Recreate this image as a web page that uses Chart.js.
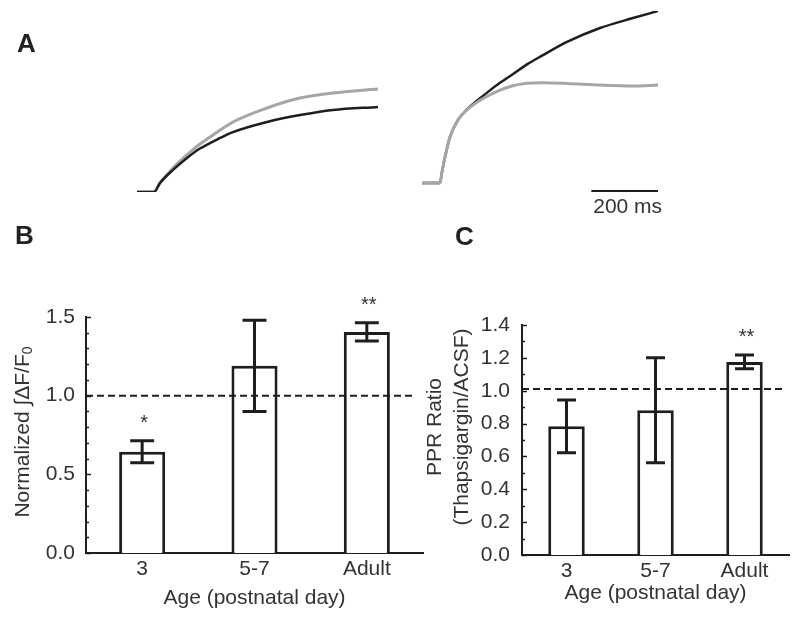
<!DOCTYPE html>
<html>
<head>
<meta charset="utf-8">
<script src="https://cdn.jsdelivr.net/npm/chart.js@4.4.1/dist/chart.umd.min.js"></script>
<style>
  body { margin: 0; background: #fff; }
  #wrap { position: relative; width: 800px; height: 617px; overflow: hidden; }
  canvas { position: absolute; }
  .letter { position: absolute; font: bold 26px "Liberation Sans", Arial, sans-serif; color: #222; line-height: 26px; }
</style>
</head>
<body>
<div id="wrap">
  <canvas id="traces" width="800" height="230" style="left:0;top:0"></canvas>
  <canvas id="chartB" width="430" height="387" style="left:0;top:230px"></canvas>
  <canvas id="chartC" width="390" height="387" style="left:410px;top:230px"></canvas>
  <div class="letter" style="left:17px;top:30px">A</div>
  <div class="letter" style="left:15px;top:222px">B</div>
  <div class="letter" style="left:455px;top:223px">C</div>
</div>
<script>
// A: example traces, time in ms from trace start, dF in % of the largest response
const leftTime  = [0, 51, 69, 108, 150, 189, 240, 288, 390, 489, 588, 723];
const leftCtrl  = [0, 0, 5.0, 12.2, 18.8, 24.0, 29.0, 33.1, 38.7, 42.5, 45.3, 47.0];
const leftThap  = [0, 0, 5.0, 13.3, 20.5, 26.5, 33.0, 38.7, 46.4, 51.9, 54.7, 56.9];
const rightTime = [0, 54, 60, 69, 84, 108, 135, 165, 200, 234, 270, 315, 360, 435, 534, 633, 708];
const rightCtrl = [5.0, 5.0, 11, 19.3, 30.4, 39.8, 45.6, 50.4, 55.6, 60.3, 64.8, 70.5, 75.3, 82.9, 90.6, 96.1, 100];
const rightThap = [5.0, 5.0, 11, 19.3, 30.4, 39.8, 45.4, 49.6, 53.3, 56.3, 58.6, 60.1, 60.4, 60.0, 59.1, 58.6, 59.1];
const rightStart = 855;
const scaleBarMs = 200;

// B and C: group means +- SEM
const ages = ['3', '5-7', 'Adult'];
const dfMean = [0.643, 1.19, 1.405];
const dfErr = [0.07, 0.29, 0.058];
const dfStars = ['*', '', '**'];
const pprMean = [0.783, 0.881, 1.175];
const pprErr = [0.16, 0.32, 0.042];
const pprStars = ['', '', '**'];

const ink = '#1e1e1e';
const textCol = '#333';
const grayTrace = '#a6a6a6';
const family = "'Liberation Sans', Arial, sans-serif";

Chart.defaults.font.family = family;
Chart.defaults.color = textCol;

const pts = (t, v, off) => t.map((x, i) => ({ x: x + off, y: v[i] }));

// panel A
const scaleBar = {
  id: 'scaleBar',
  afterDraw(chart) {
    const { ctx } = chart;
    const x = chart.scales.x, y = chart.scales.y;
    const x1 = x.getPixelForValue(x.max - scaleBarMs);
    const x2 = x.getPixelForValue(x.max);
    const yb = y.getPixelForValue(0.5);
    ctx.save();
    ctx.strokeStyle = ink;
    ctx.lineWidth = 2;
    ctx.beginPath();
    ctx.moveTo(x1, yb);
    ctx.lineTo(x2, yb);
    ctx.stroke();
    ctx.fillStyle = textCol;
    ctx.font = '21px ' + family;
    ctx.textAlign = 'center';
    ctx.textBaseline = 'alphabetic';
    ctx.fillText(scaleBarMs + ' ms', (x1 + x2) / 2 + 3, yb + 22);
    ctx.restore();
  }
};

new Chart(document.getElementById('traces'), {
  type: 'line',
  data: {
    datasets: [
      { data: pts(leftTime, leftCtrl, 0), borderColor: ink, borderWidth: 2.5 },
      { data: pts(leftTime, leftThap, 0), borderColor: grayTrace, borderWidth: 3 },
      { data: pts(rightTime, rightThap, rightStart), borderColor: grayTrace, borderWidth: 3 },
      { data: pts(rightTime, rightCtrl, rightStart), borderColor: ink, borderWidth: 2.5 }
    ]
  },
  options: {
    responsive: false,
    animation: false,
    devicePixelRatio: 1,
    elements: { point: { radius: 0 }, line: { cubicInterpolationMode: 'monotone' } },
    layout: { padding: { left: 137, right: 142, top: 11, bottom: 38 } },
    plugins: { legend: { display: false }, tooltip: { enabled: false } },
    scales: {
      x: { type: 'linear', display: false, min: 0, max: rightStart + rightTime[rightTime.length - 1] },
      y: { display: false, min: 0, max: 100 }
    }
  },
  plugins: [scaleBar]
});

// B and C: error bars, dashed 1.0 line, inward ticks, stars, axis titles
function makeDecor(cfg) {
  return {
    id: 'decor',
    afterDatasetsDraw(chart) {
      const { ctx, chartArea } = chart;
      const y = chart.scales.y;
      const meta = chart.getDatasetMeta(0);
      ctx.save();
      ctx.strokeStyle = ink;
      ctx.lineWidth = 2;
      ctx.setLineDash([7, 4]);
      const ry = y.getPixelForValue(cfg.ref);
      ctx.beginPath();
      ctx.moveTo(chartArea.left, ry);
      ctx.lineTo(chartArea.right - cfg.refInset, ry);
      ctx.stroke();
      ctx.setLineDash([]);

      ctx.lineWidth = 3;
      ctx.fillStyle = textCol;
      ctx.font = '20px ' + family;
      ctx.textAlign = 'center';
      ctx.textBaseline = 'alphabetic';
      meta.data.forEach((bar, i) => {
        const hi = y.getPixelForValue(cfg.mean[i] + cfg.err[i]);
        const lo = y.getPixelForValue(cfg.mean[i] - cfg.err[i]);
        const cap = bar.width * 0.26;
        ctx.beginPath();
        ctx.moveTo(bar.x, hi); ctx.lineTo(bar.x, lo);
        ctx.moveTo(bar.x - cap, hi); ctx.lineTo(bar.x + cap, hi);
        ctx.moveTo(bar.x - cap, lo); ctx.lineTo(bar.x + cap, lo);
        ctx.stroke();
        if (cfg.stars[i]) ctx.fillText(cfg.stars[i], bar.x + 2, hi - 12);
      });
      ctx.restore();
    },
    afterDraw(chart) {
      const { ctx, chartArea } = chart;
      const y = chart.scales.y;
      ctx.save();
      ctx.strokeStyle = ink;
      ctx.lineWidth = 1.5;
      y.ticks.forEach(t => {
        const py = Math.round(y.getPixelForValue(t.value)) + 0.5;
        const len = t.label ? 5 : 3;
        ctx.beginPath();
        ctx.moveTo(chartArea.left, py);
        ctx.lineTo(chartArea.left + len, py);
        ctx.stroke();
      });

      ctx.fillStyle = textCol;
      ctx.font = '21px ' + family;
      ctx.textAlign = 'center';
      ctx.textBaseline = 'alphabetic';
      ctx.fillText('Age (postnatal day)', (chartArea.left + chartArea.right) / 2, chartArea.bottom + cfg.xTitleGap);

      const cy = (chartArea.top + chartArea.bottom) / 2 + cfg.yTitleShift;
      cfg.yTitle(ctx, cy);
      ctx.restore();
    }
  };
}

function tickLabels(every) {
  return v => {
    const k = Math.round(v * 10);
    return k % every === 0 ? (k / 10).toFixed(1) : '';
  };
}

function barChart(id, mean, yMax, every, pad, decor) {
  return new Chart(document.getElementById(id), {
    type: 'bar',
    data: {
      labels: ages,
      datasets: [{
        data: mean,
        backgroundColor: '#fff',
        borderColor: ink,
        borderWidth: 3,
        barPercentage: 0.41,
        categoryPercentage: 1
      }]
    },
    options: {
      responsive: false,
      animation: false,
      devicePixelRatio: 1,
      layout: { padding: { top: pad.top, right: pad.right, left: 0, bottom: 0 } },
      plugins: { legend: { display: false }, tooltip: { enabled: false } },
      scales: {
        x: {
          grid: { display: false, drawTicks: false },
          border: { display: true, color: ink, width: 2 },
          ticks: { font: { size: 21 }, color: textCol, padding: 4 },
          afterFit: s => { s.height = pad.bottom; }
        },
        y: {
          min: 0,
          max: yMax,
          grid: { display: false, drawTicks: false },
          border: { display: true, color: ink, width: 2 },
          ticks: { stepSize: 0.1, autoSkip: false, font: { size: 21 }, color: textCol, padding: pad.label, callback: tickLabels(every) },
          afterFit: s => { s.width = pad.left; }
        }
      }
    },
    plugins: [makeDecor(decor)]
  });
}

barChart('chartB', dfMean, 1.5, 5, { top: 87, right: 7, bottom: 64, left: 86, label: 11 }, {
  mean: dfMean, err: dfErr, stars: dfStars, ref: 1.0, refInset: 8, xTitleGap: 51, yTitleShift: -3,
  yTitle(ctx, cy) {
    ctx.translate(23, cy);
    ctx.rotate(-Math.PI / 2);
    const main = 'Normalized \u222B\u0394F/F';
    ctx.font = '21px ' + family;
    const w1 = ctx.measureText(main).width;
    ctx.font = '14px ' + family;
    const w2 = ctx.measureText('0').width;
    const x0 = -(w1 + w2) / 2;
    ctx.textAlign = 'left';
    ctx.textBaseline = 'middle';
    ctx.font = '21px ' + family;
    ctx.fillText(main, x0, 0);
    ctx.font = '14px ' + family;
    ctx.fillText('0', x0 + w1, 5);
  }
});

barChart('chartC', pprMean, 1.4, 2, { top: 95, right: 11, bottom: 62, left: 112, label: 12 }, {
  mean: pprMean, err: pprErr, stars: pprStars, ref: 1.01, refInset: 6, xTitleGap: 44, yTitleShift: -13,
  yTitle(ctx, cy) {
    ctx.font = '21px ' + family;
    ctx.textAlign = 'center';
    ctx.textBaseline = 'middle';
    ctx.save();
    ctx.translate(25, cy);
    ctx.rotate(-Math.PI / 2);
    ctx.fillText('PPR Ratio', 0, 0);
    ctx.restore();
    ctx.translate(52, cy);
    ctx.rotate(-Math.PI / 2);
    ctx.fillText('(Thapsigargin/ACSF)', 0, 0);
  }
});
</script>
</body>
</html>
